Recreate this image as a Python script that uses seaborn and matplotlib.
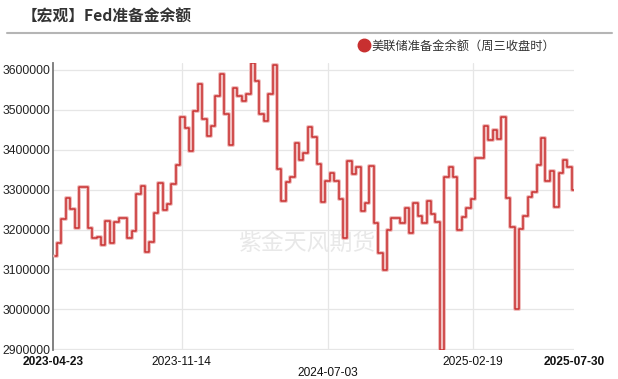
import matplotlib
matplotlib.use("Agg")
import matplotlib.pyplot as plt
import matplotlib.patheffects as pe
from matplotlib.lines import Line2D
import seaborn as sns
import pandas as pd
import numpy as np

# ---- data ----
start_date = "2023-04-26"
n_weeks = 119
reserves = [
    3133000, 3166000, 3227000, 3279000, 3252000, 3205000, 3306000, 3306000, 3205000, 3178000,
    3181000, 3162000, 3221000, 3166000, 3218000, 3229000, 3229000, 3178000, 3196000, 3289000,
    3310000, 3144000, 3168000, 3241000, 3317000, 3250000, 3263000, 3315000, 3361000, 3482500,
    3454000, 3396000, 3496000, 3566000, 3477500, 3434000, 3459000, 3536000, 3590000, 3489000,
    3412500, 3554000, 3536000, 3522500, 3539000, 3617500, 3572500, 3489000, 3472500, 3539000,
    3613000, 3352500, 3272500, 3318000, 3331000, 3416700, 3374000, 3391000, 3457500, 3433000,
    3365000, 3269000, 3322500, 3341000, 3322500, 3276000, 3179000, 3372500, 3339000, 3358000,
    3247500, 3266000, 3360000, 3216700, 3141700, 3097500, 3199000, 3229000, 3229000, 3216000,
    3255000, 3190700, 3266000, 3234000, 3216000, 3272500, 3238000, 3218000, 2898000, 3331000,
    3357700, 3331000, 3200000, 3232500, 3255000, 3276000, 3379500, 3379500, 3459000, 3424000,
    3449600, 3426000, 3483000, 3280000, 3207000, 3000000, 3201500, 3235000, 3281700, 3295000,
    3362000, 3429000, 3322000, 3347000, 3256000, 3342000, 3373700, 3356000, 3299000,
]
dates = pd.date_range(start_date, periods=n_weeks, freq="7D")

x_ticks = ["2023-04-23", "2023-11-14", "2024-07-03", "2025-02-19", "2025-07-30"]
y_ticks = [2900000, 3000000, 3100000, 3200000, 3300000, 3400000, 3500000, 3600000]

title = "【宏观】Fed准备金余额"
series_name = "美联储准备金余额（周三收盘时）"
watermark = "紫金天风期货"

df = pd.DataFrame({"date": dates, "value": reserves})

# ---- style ----
sns.set_style("white")
cjk = ["Noto Sans CJK SC", "DejaVu Sans"]
num_font = ["Liberation Sans", "DejaVu Sans"]
plt.rcParams["font.family"] = cjk

W, H = 618, 379
fig = plt.figure(figsize=(W / 100, H / 100), dpi=100)
L, R, T, B = 53, 574, 63, 350
ax = fig.add_axes([L / W, 1 - B / H, (R - L) / W, (B - T) / H])

red = "#c83030"
sns.lineplot(
    data=df, x="date", y="value", ax=ax, color=red, linewidth=1.1,
    drawstyle="steps-mid", zorder=3,
    path_effects=[pe.Stroke(linewidth=2.8, foreground="#f0bcbc"), pe.Normal()],
)

ax.set_xlim(pd.Timestamp(x_ticks[0]), pd.Timestamp(x_ticks[-1]))
ax.set_ylim(2898000, 3617500)

ax.set_yticks(y_ticks)
ax.set_yticklabels([str(v) for v in y_ticks], fontfamily=num_font, fontsize=8.7, color="#222222")
ax.set_xticks([pd.Timestamp(d) for d in x_ticks])
xlabels = [("\n" + d) if i == 2 else d for i, d in enumerate(x_ticks)]
ax.set_xticklabels(xlabels, fontfamily=num_font, fontsize=8.6, color="#111111", linespacing=0.95)
tl = ax.get_xticklabels()
tl[0].set_fontweight("bold")
tl[-1].set_fontweight("bold")

ax.tick_params(axis="both", length=0)
ax.tick_params(axis="y", pad=2)
ax.tick_params(axis="x", pad=4)
ax.set_xlabel("")
ax.set_ylabel("")

ax.grid(True, color="#e6e6e6", linewidth=0.9)
ax.set_axisbelow(True)
gl = ax.xaxis.get_gridlines()
gl[0].set_visible(False)
gl[-1].set_visible(False)

for s in ["top", "right", "bottom"]:
    ax.spines[s].set_visible(False)
ax.spines["left"].set_color("#777777")
ax.spines["left"].set_linewidth(1.3)

# watermark
ax.text(307 / W, 1 - 243 / H, watermark, transform=fig.transFigure, ha="center", va="center",
        fontsize=16.5, color="#e8e8e8", zorder=1, family=cjk)

# title + separator
fig.text(22 / W, 1 - 17 / H, title, ha="left", va="center", fontsize=11.3,
         fontweight="bold", color="#333333", family=cjk)
fig.add_artist(Line2D([7 / W, 612 / W], [1 - 33 / H, 1 - 33 / H], color="#b5b5b5", linewidth=1.5))

# legend
handle = Line2D([], [], marker="o", linestyle="", color=red, markersize=9)
fig.legend([handle], [series_name], loc="center left", bbox_to_anchor=(351 / W, 1 - 46 / H),
           frameon=False, handletextpad=0.0, handlelength=1.2, borderpad=0,
           prop={"family": cjk, "size": 8.8}, labelcolor="#333333")

fig.savefig("out.png", dpi=100)
